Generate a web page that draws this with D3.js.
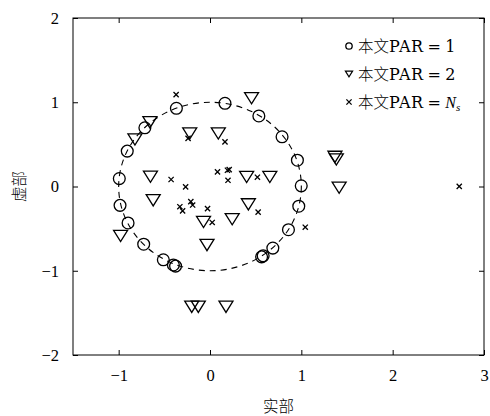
<!DOCTYPE html>
<html>
<head>
<meta charset="utf-8">
<script src="https://cdn.jsdelivr.net/npm/d3@7"></script>
<style>
  body { margin: 0; background: #fff; }
  text { font-family: "Liberation Serif", "DejaVu Serif", serif; }
  .cjk { font-family: "Noto Sans CJK SC", sans-serif; font-weight: 300; }
  .latin { font-family: "DejaVu Serif", serif; letter-spacing: 0.6px; }
</style>
</head>
<body>
<svg id="chart" width="490" height="416"></svg>
<script>
const par1Points = [
  [-0.368, 0.928], [0.164, 0.988], [0.535, 0.837], [0.789, 0.590], [0.957, 0.312],
  [0.999, 0.008], [0.972, -0.234], [0.859, -0.513], [0.688, -0.731], [0.582, -0.823],
  [0.565, -0.835], [-0.401, -0.931], [-0.377, -0.945], [-0.511, -0.870], [-0.726, -0.685],
  [-0.897, -0.433], [-0.985, -0.224], [-0.993, 0.094], [-0.906, 0.420], [-0.713, 0.697]
];
const par2Points = [
  [0.455, 1.048], [0.091, 0.630], [-0.222, 0.630], [-0.658, 0.762], [-0.822, 0.559],
  [-0.652, 0.116], [-0.622, -0.164], [-0.979, -0.588], [-0.071, -0.421], [-0.033, -0.695],
  [0.243, -0.389], [0.420, -0.212], [0.401, 0.113], [0.655, 0.113], [1.368, 0.352],
  [1.383, 0.321], [1.414, -0.015], [-0.200, -1.428], [-0.128, -1.428], [0.175, -1.428]
];
const parNsPoints = [
  [-0.371, 1.090], [-0.240, 0.571], [0.164, 0.530], [-0.426, 0.083], [-0.267, -0.004],
  [0.082, 0.173], [0.191, 0.193], [0.210, 0.200], [0.197, 0.074], [0.519, 0.110],
  [-0.330, -0.240], [-0.300, -0.290], [-0.210, -0.180], [-0.190, -0.220], [-0.027, -0.263],
  [0.024, -0.427], [0.527, -0.304], [1.043, -0.483], [2.729, 0.002]
];
const xTicks = [-1, 0, 1, 2, 3];
const yTicks = [-2, -1, 0, 1, 2];
const legendCjk = ['本文', '本文', '本文'];
const legendLatin = ['PAR\u2009=\u20091', 'PAR\u2009=\u20092', 'PAR\u2009=\u2009'];

const svg = d3.select('#chart');
const margin = { left: 73, right: 6, top: 18, bottom: 61 };
const W = 490, H = 416;
const x = d3.scaleLinear().domain([-1.5, 3]).range([margin.left, W - margin.right]);
const y = d3.scaleLinear().domain([-2, 2]).range([H - margin.bottom, margin.top]);
const fmt = d => d < 0 ? '\u2212' + Math.abs(d) : String(d);

// frame
svg.append('rect')
  .attr('x', x(-1.5)).attr('y', y(2))
  .attr('width', x(3) - x(-1.5)).attr('height', y(-2) - y(2))
  .attr('fill', 'none').attr('stroke', '#000').attr('stroke-width', 1);

// inward ticks on all four sides
const tickLen = 5;
const axB = svg.append('g').attr('transform', `translate(0,${y(-2)})`)
  .call(d3.axisBottom(x).tickValues(xTicks).tickSize(-tickLen).tickPadding(14).tickFormat(fmt));
const axT = svg.append('g').attr('transform', `translate(0,${y(2)})`)
  .call(d3.axisTop(x).tickValues(xTicks).tickSize(-tickLen).tickFormat(''));
const axL = svg.append('g').attr('transform', `translate(${x(-1.5)},0)`)
  .call(d3.axisLeft(y).tickValues(yTicks).tickSize(-tickLen).tickPadding(14).tickFormat(fmt));
const axR = svg.append('g').attr('transform', `translate(${x(3)},0)`)
  .call(d3.axisRight(y).tickValues(yTicks).tickSize(-tickLen).tickFormat(''));
[axB, axT, axL, axR].forEach(g => {
  g.select('.domain').remove();
  g.selectAll('text').attr('font-size', 16.5).attr('fill', '#000')
    .style('font-family', '"Liberation Serif", "DejaVu Serif", serif');
  g.selectAll('line').attr('stroke', '#000');
});

// axis titles
svg.append('text').attr('class', 'cjk')
  .attr('x', (x(-1.5) + x(3)) / 2).attr('y', 412)
  .attr('text-anchor', 'middle').attr('font-size', 15.5).text('实部');
svg.append('text').attr('class', 'cjk')
  .attr('transform', `translate(25,${y(0)}) rotate(-90)`)
  .attr('text-anchor', 'middle').attr('font-size', 15.5).text('虚部');

// dashed unit circle
svg.append('ellipse')
  .attr('cx', x(0)).attr('cy', y(0))
  .attr('rx', x(1) - x(0)).attr('ry', y(0) - y(1))
  .attr('fill', 'none').attr('stroke', '#000').attr('stroke-width', 1.1)
  .attr('stroke-dasharray', '6,5');

const tri = s => `M${-s},${-s * 0.8}L${s},${-s * 0.8}L0,${s * 0.8}Z`;
const cross = s => `M${-s},${-s}L${s},${s}M${-s},${s}L${s},${-s}`;

svg.append('g').selectAll('circle').data(par1Points).join('circle')
  .attr('cx', d => x(d[0])).attr('cy', d => y(d[1])).attr('r', 5.9)
  .attr('fill', 'none').attr('stroke', '#000').attr('stroke-width', 1.3);

svg.append('g').selectAll('path').data(par2Points).join('path')
  .attr('transform', d => `translate(${x(d[0])},${y(d[1])})`)
  .attr('d', tri(7))
  .attr('fill', 'none').attr('stroke', '#000').attr('stroke-width', 1.3);

svg.append('g').selectAll('path').data(parNsPoints).join('path')
  .attr('transform', d => `translate(${x(d[0])},${y(d[1])})`)
  .attr('d', cross(2.6))
  .attr('fill', 'none').attr('stroke', '#000').attr('stroke-width', 1.3);

// legend
const lg = svg.append('g');
const rowY = [46, 74, 102];
const mx = 349, tx = 358;
lg.append('circle').attr('cx', mx).attr('cy', rowY[0]).attr('r', 3.2)
  .attr('fill', 'none').attr('stroke', '#000').attr('stroke-width', 1.3);
lg.append('path').attr('transform', `translate(${mx},${rowY[1]})`).attr('d', tri(3.6))
  .attr('fill', 'none').attr('stroke', '#000').attr('stroke-width', 1.2);
lg.append('path').attr('transform', `translate(${mx},${rowY[2]})`).attr('d', cross(2.6))
  .attr('fill', 'none').attr('stroke', '#000').attr('stroke-width', 1.3);
legendCjk.forEach((lab, i) => {
  const t = lg.append('text').attr('x', tx).attr('y', rowY[i] + 5.5).attr('font-size', 15.5);
  t.append('tspan').attr('class', 'cjk').text(lab);
  t.append('tspan').attr('class', 'latin').attr('font-size', 16).text(legendLatin[i]);
  if (i === 2) {
    t.append('tspan').attr('font-style', 'italic').attr('font-size', 16).text('N');
    t.append('tspan').attr('font-style', 'italic').attr('font-size', 11).attr('dy', 3).text('s');
  }
});
</script>
</body>
</html>
